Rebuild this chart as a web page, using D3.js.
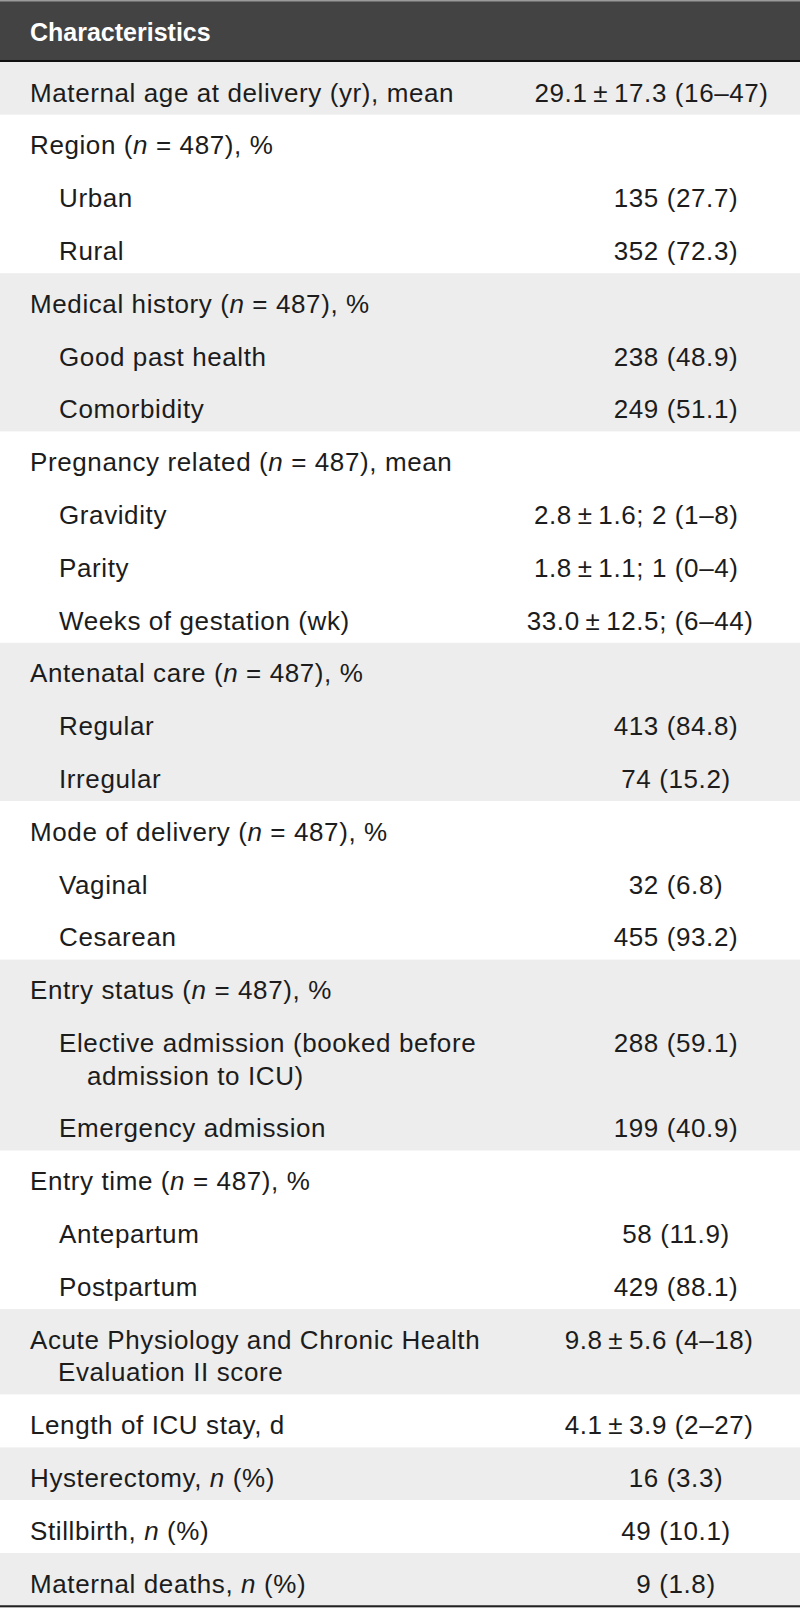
<!DOCTYPE html>
<html>
<head>
<meta charset="utf-8">
<script src="https://cdn.jsdelivr.net/npm/d3@7"></script>
<style>
  html, body { margin: 0; padding: 0; background: #ffffff; }
  svg { display: block; }
</style>
</head>
<body>
<svg id="chart" width="800" height="1608"></svg>
<script>
// ---- data ----
const headerLabel = "Characteristics";

const characteristics = [
  "Maternal age at delivery (yr), mean",
  "Region (*n* = 487), %",
  "Urban",
  "Rural",
  "Medical history (*n* = 487), %",
  "Good past health",
  "Comorbidity",
  "Pregnancy related (*n* = 487), mean",
  "Gravidity",
  "Parity",
  "Weeks of gestation (wk)",
  "Antenatal care (*n* = 487), %",
  "Regular",
  "Irregular",
  "Mode of delivery (*n* = 487), %",
  "Vaginal",
  "Cesarean",
  "Entry status (*n* = 487), %",
  "Elective admission (booked before|admission to ICU)",
  "Emergency admission",
  "Entry time (*n* = 487), %",
  "Antepartum",
  "Postpartum",
  "Acute Physiology and Chronic Health|Evaluation II score",
  "Length of ICU stay, d",
  "Hysterectomy, *n* (%)",
  "Stillbirth, *n* (%)",
  "Maternal deaths, *n* (%)"
];

const indentLevel = [0,0,1,1,0,1,1,0,1,1,1,0,1,1,0,1,1,0,1,1,0,1,1,0,0,0,0,0];

const values = [
  "29.1\u2009±\u200917.3 (16–47)",
  "",
  "135 (27.7)",
  "352 (72.3)",
  "",
  "238 (48.9)",
  "249 (51.1)",
  "",
  "2.8\u2009±\u20091.6; 2 (1–8)",
  "1.8\u2009±\u20091.1; 1 (0–4)",
  "33.0\u2009±\u200912.5; (6–44)",
  "",
  "413 (84.8)",
  "74 (15.2)",
  "",
  "32 (6.8)",
  "455 (93.2)",
  "",
  "288 (59.1)",
  "199 (40.9)",
  "",
  "58 (11.9)",
  "429 (88.1)",
  "9.8\u2009±\u20095.6 (4–18)",
  "4.1\u2009±\u20093.9 (2–27)",
  "16 (3.3)",
  "49 (10.1)",
  "9 (1.8)"
];

// ---- layout ----
const W = 800;
const headerH = 62;
const singleH = 52.8;
const lineGap = 32.7;
const fontFamily = "'Liberation Sans', Arial, Helvetica, sans-serif";
const fontSize = 26;
const letterSp = 0.6;
const textColor = "#1c1c1c";
const bandColor = "#ededed";
const labelX = [30, 59];
const contIndent = 28;
const valueCenterX = 676;
const parenX = 667;

const rows = characteristics.map((c, i) => {
  const lines = c.split("|");
  return { lines, level: indentLevel[i], value: values[i], h: singleH + (lines.length - 1) * lineGap };
});
let grp = -1;
rows.forEach(r => { if (r.level === 0) grp++; r.group = grp; });
const tops = [headerH, ...d3.cumsum(rows, r => r.h).map(v => v + headerH)];
rows.forEach((r, i) => { r.y0 = tops[i]; r.y1 = tops[i + 1]; });

const svg = d3.select("#chart");

// group bands
const groups = d3.groups(rows, r => r.group).map(([g, rs]) => ({ g, y0: rs[0].y0, y1: rs[rs.length - 1].y1 }));
svg.append("g").selectAll("rect").data(groups).join("rect")
  .attr("x", 0).attr("width", W)
  .attr("y", d => d.y0).attr("height", d => d.y1 - d.y0)
  .attr("fill", d => d.g % 2 === 0 ? bandColor : "#ffffff");

// header
svg.append("rect").attr("x", 0).attr("y", 0).attr("width", W).attr("height", headerH)
  .attr("fill", "#434343");
svg.append("rect").attr("x", 0).attr("y", 0).attr("width", W).attr("height", 1.5)
  .attr("fill", "#9a9a9a");
svg.append("line").attr("x1", 0).attr("x2", W).attr("y1", headerH - 1).attr("y2", headerH - 1)
  .attr("stroke", "#111").attr("stroke-width", 2);
svg.append("text").attr("x", labelX[0]).attr("y", 41)
  .attr("font-family", fontFamily).attr("font-size", 25).attr("font-weight", "bold")
  .attr("fill", "#ffffff").text(headerLabel);

// labels with italic segments
function addRich(sel, str) {
  const parts = str.split("*");
  parts.forEach((p, k) => {
    if (!p) return;
    sel.append("tspan").attr("font-style", k % 2 === 1 ? "italic" : null).text(p);
  });
}

const rowG = svg.append("g").selectAll("g").data(rows).join("g");

rowG.each(function (r) {
  const g = d3.select(this);
  r.lines.forEach((ln, li) => {
    const t = g.append("text")
      .attr("x", labelX[r.level] + (li > 0 ? contIndent : 0))
      .attr("y", r.y0 + 39.5 + li * lineGap)
      .attr("font-family", fontFamily).attr("font-size", fontSize)
      .attr("letter-spacing", letterSp)
      .attr("fill", textColor);
    addRich(t, ln);
  });
  if (r.value) {
    const t = g.append("text")
      .attr("y", r.y0 + 39.5)
      .attr("font-family", fontFamily).attr("font-size", fontSize)
      .attr("letter-spacing", letterSp)
      .attr("fill", textColor);
    if (r.value.includes("±")) {
      const cut = r.value.lastIndexOf("(");
      const pre = r.value.slice(0, cut);
      // measure the prefix to align the parenthesis
      const tmp = g.append("text").attr("font-family", fontFamily).attr("font-size", fontSize)
        .attr("letter-spacing", letterSp).text(pre);
      const wPre = tmp.node().getComputedTextLength();
      tmp.remove();
      t.attr("x", parenX - wPre).attr("text-anchor", "start").text(r.value);
    } else {
      t.attr("x", valueCenterX).attr("text-anchor", "middle").text(r.value);
    }
  }
});

// bottom rule
const yEnd = tops[tops.length - 1];
svg.append("line").attr("x1", 0).attr("x2", W).attr("y1", yEnd + 0.5).attr("y2", yEnd + 0.5)
  .attr("stroke", "#222").attr("stroke-width", 2);
svg.append("line").attr("x1", 0).attr("x2", W).attr("y1", yEnd + 2.5).attr("y2", yEnd + 2.5)
  .attr("stroke", "#666").attr("stroke-width", 1);
</script>
</body>
</html>
